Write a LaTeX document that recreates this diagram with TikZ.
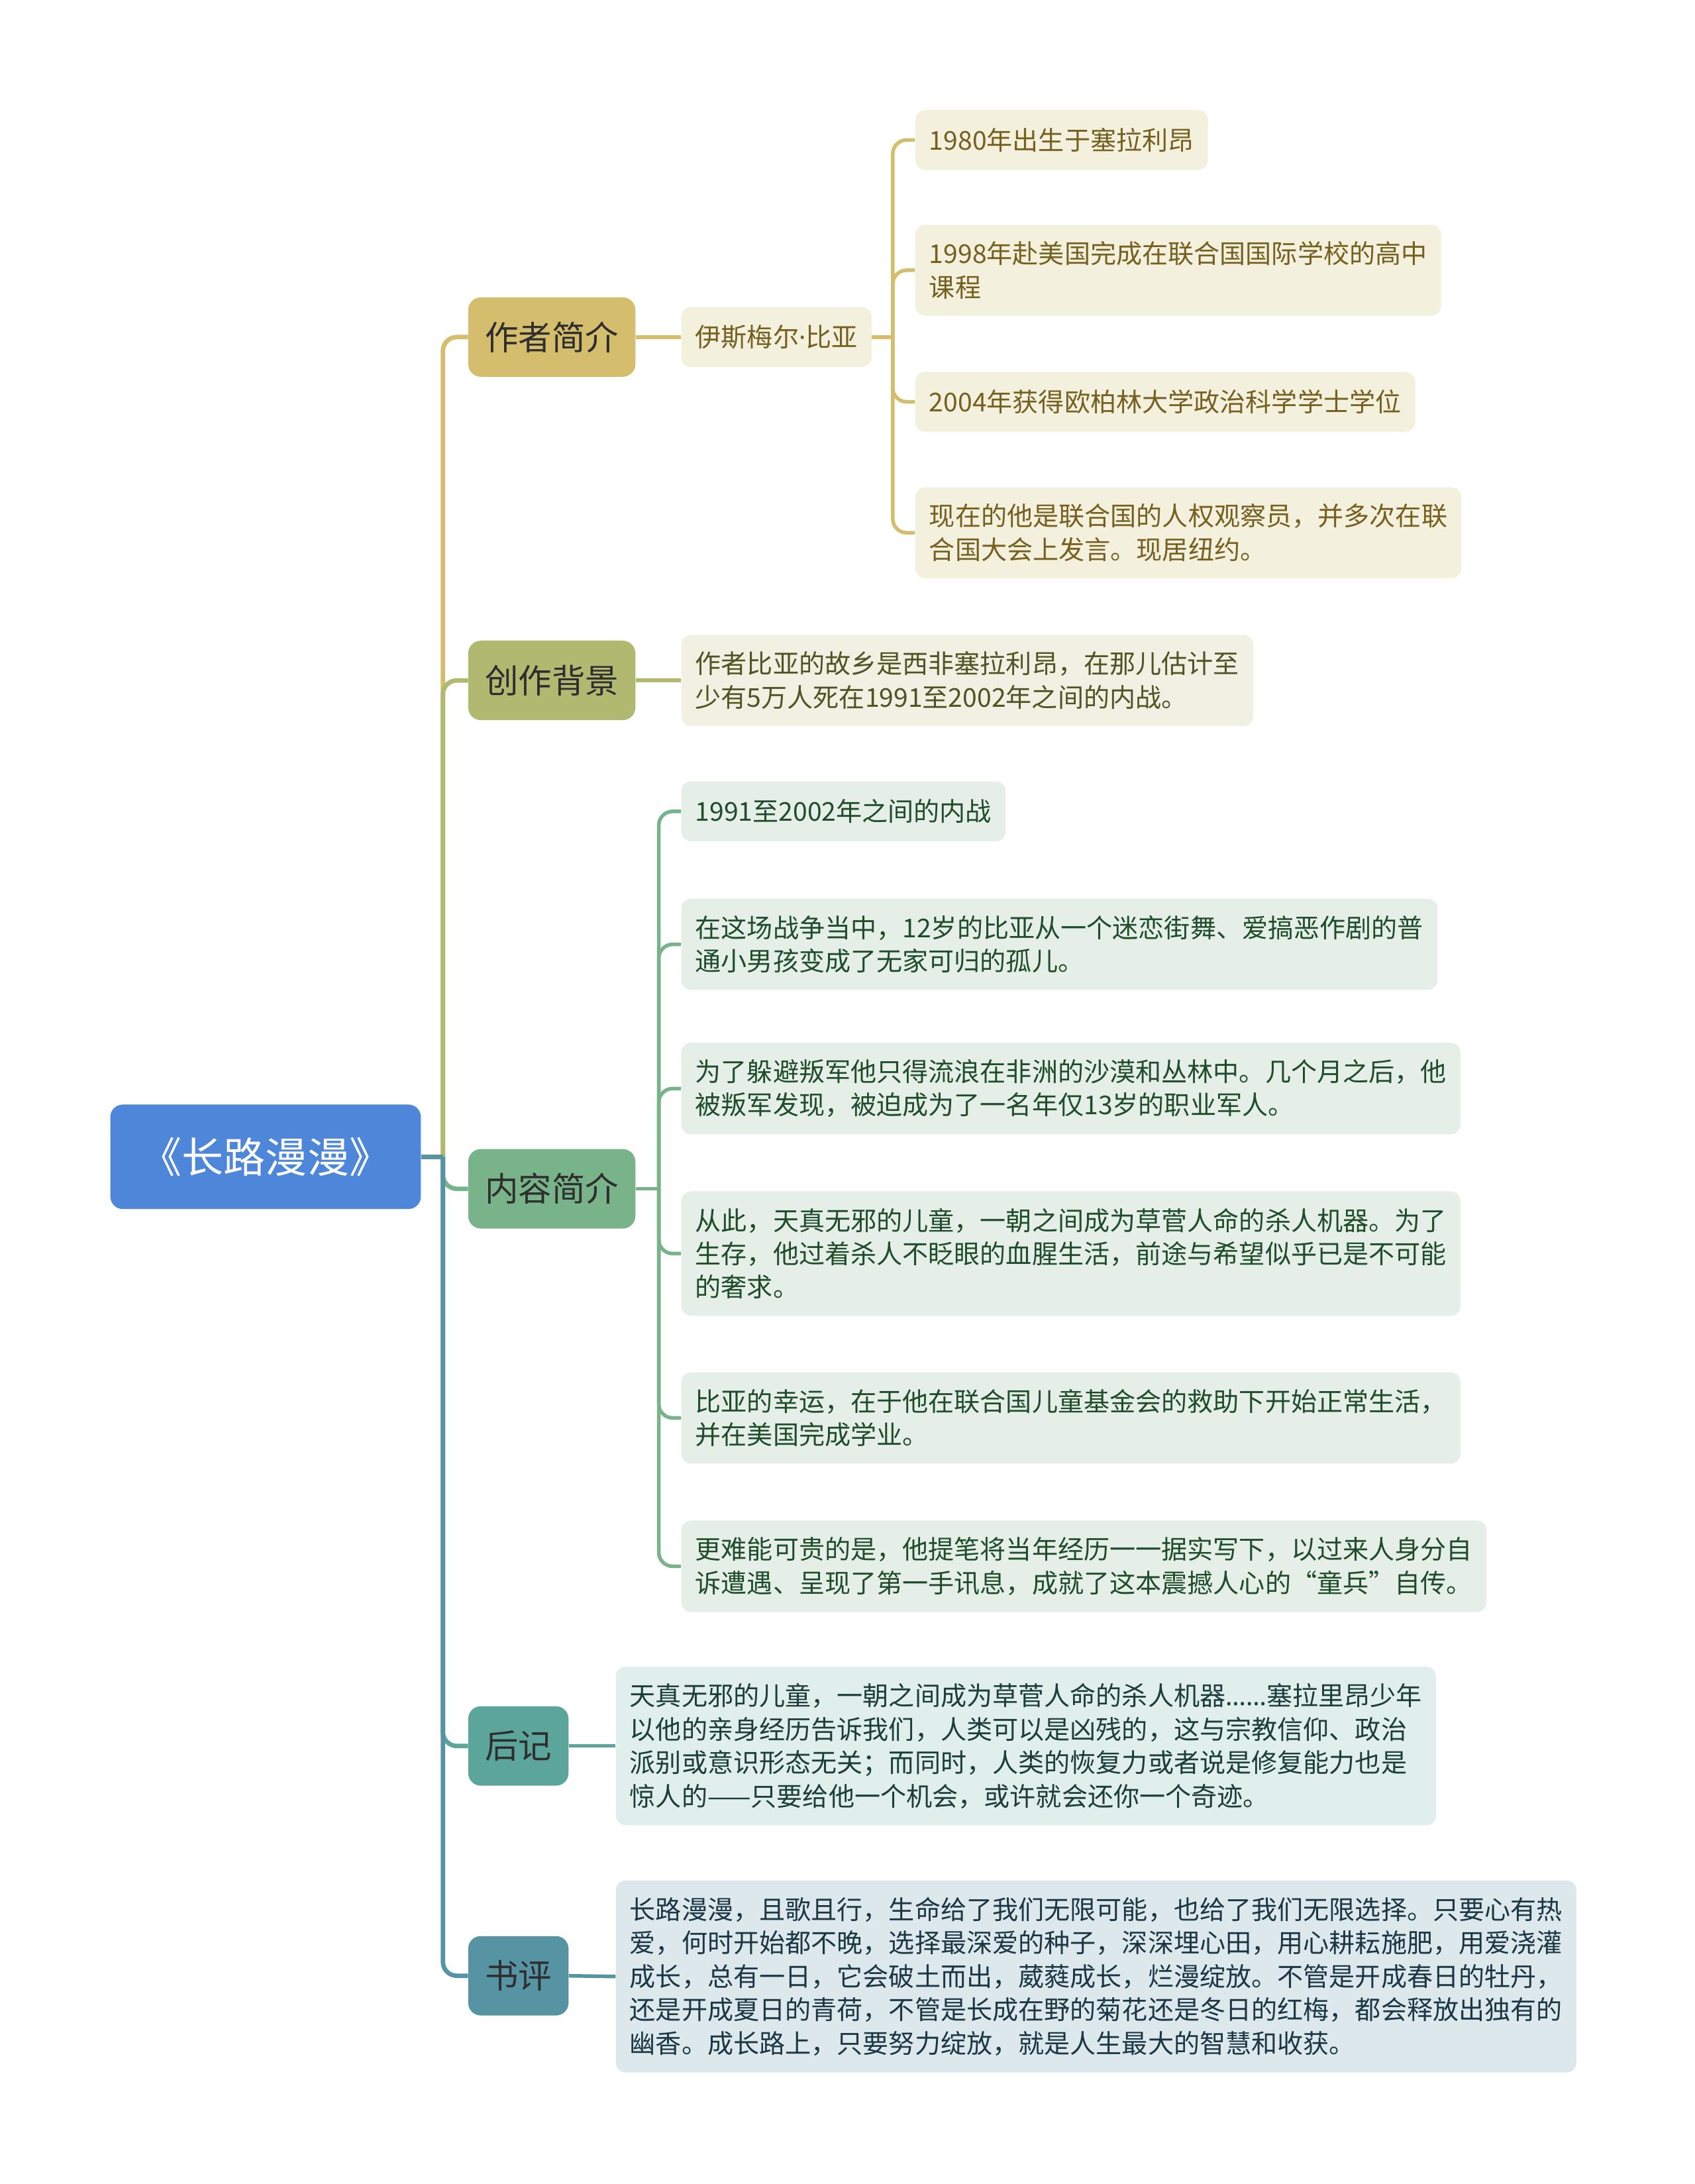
\documentclass[tikz,border=0pt]{standalone}
\usepackage{fontspec}
\setmainfont{Noto Sans CJK SC}
\newfontfamily\xifont{Noto Sans}

\definecolor{zhuLan}{HTML}{4E86D9}
\definecolor{jinHuang}{HTML}{D4BD6C}
\definecolor{ganLan}{HTML}{B0B96F}
\definecolor{qingLv}{HTML}{78B38A}
\definecolor{shuiQing}{HTML}{5BA59A}
\definecolor{huiLan}{HTML}{5794A3}
\definecolor{jinHuangL}{HTML}{F4F0DE}
\definecolor{ganLanL}{HTML}{F0F1E2}
\definecolor{qingLvL}{HTML}{E5EFE7}
\definecolor{shuiQingL}{HTML}{E0EFEC}
\definecolor{huiLanL}{HTML}{DDE8EC}
\definecolor{jinHuangT}{HTML}{75601F}
\definecolor{ganLanT}{HTML}{4E5523}
\definecolor{qingLvT}{HTML}{1F4D2C}
\definecolor{shuiQingT}{HTML}{1C3D39}
\definecolor{huiLanT}{HTML}{1C3744}

\begin{document}
\begin{tikzpicture}[
    x=1pt, y=-1pt,
    every node/.style={anchor=west, align=left, rounded corners=7pt, inner xsep=10pt, inner ysep=12pt,
                       font=\fontsize{18.6}{24}\selectfont},
    zhuti/.style={fill=zhuLan, text=white, align=center, minimum width=223pt, minimum height=75pt,
                  rounded corners=9pt, font=\fontsize{30}{36}\selectfont},
    fenzhi/.style={minimum height=57pt, inner xsep=12pt, inner ysep=6pt, rounded corners=9pt,
                   text=black!82, font=\fontsize{24}{28}\selectfont},
    ye/.style={minimum height=43pt},
    zuozhe/.style={fenzhi, fill=jinHuang},
    beijing/.style={fenzhi, fill=ganLan},
    neirong/.style={fenzhi, fill=qingLv},
    houji/.style={fenzhi, fill=shuiQing},
    shuping/.style={fenzhi, fill=huiLan},
    zuozheye/.style={ye, fill=jinHuangL, text=jinHuangT},
    beijingye/.style={ye, fill=ganLanL, text=ganLanT},
    neirongye/.style={ye, fill=qingLvL, text=qingLvT},
    houjiye/.style={ye, fill=shuiQingL, text=shuiQingT},
    shupingye/.style={ye, fill=huiLanL, text=huiLanT},
    lian/.style={line width=3.2pt, rounded corners=10pt},
    xian/.style={line width=2.6pt, rounded corners=10pt}
]
    \useasboundingbox[fill=white] (0,0) rectangle (1217,1568);

    \node[zhuti]   (root) at (79,830.5)   {《长路漫漫》};

    \node[zuozhe]  (zz)   at (336,242)    {作者简介};
    \node[beijing] (bj)   at (336,488.5)  {创作背景};
    \node[neirong] (nr)   at (336,853.5)  {内容简介};
    \node[houji]   (hj)   at (336,1253.5) {后记};
    \node[shuping] (sp)   at (336,1418.5) {书评};

    % 作者简介
    \node[zuozheye] (zz0) at (489,242)   {伊斯梅尔{\xifont ·}比亚};
    \node[zuozheye] (zz1) at (657,100.5) {1980年出生于塞拉利昂};
    \node[zuozheye] (zz2) at (657,194)   {1998年赴美国完成在联合国国际学校的高中\\课程};
    \node[zuozheye] (zz3) at (657,288.5) {2004年获得欧柏林大学政治科学学士学位};
    \node[zuozheye] (zz4) at (657,382.5) {现在的他是联合国的人权观察员，并多次在联\\合国大会上发言。现居纽约。};

    % 创作背景
    \node[beijingye] (bj1) at (489,488.5) {作者比亚的故乡是西非塞拉利昂，在那儿估计至\\少有5万人死在1991至2002年之间的内战。};

    % 内容简介
    \node[neirongye] (nr1) at (489,582.5)  {1991至2002年之间的内战};
    \node[neirongye] (nr2) at (489,678)    {在这场战争当中，12岁的比亚从一个迷恋街舞、爱搞恶作剧的普\\通小男孩变成了无家可归的孤儿。};
    \node[neirongye] (nr3) at (489,781.5)  {为了躲避叛军他只得流浪在非洲的沙漠和丛林中。几个月之后，他\\被叛军发现，被迫成为了一名年仅13岁的职业军人。};
    \node[neirongye] (nr4) at (489,900)    {从此，天真无邪的儿童，一朝之间成为草菅人命的杀人机器。为了\\生存，他过着杀人不眨眼的血腥生活，前途与希望似乎已是不可能\\的奢求。};
    \node[neirongye] (nr5) at (489,1018)   {比亚的幸运，在于他在联合国儿童基金会的救助下开始正常生活，\\并在美国完成学业。};
    \node[neirongye] (nr6) at (489,1124.5) {更难能可贵的是，他提笔将当年经历一一据实写下，以过来人身分自\\诉遭遇、呈现了第一手讯息，成就了这本震撼人心的“童兵”自传。};

    % 后记 / 书评
    \node[houjiye] (hj1) at (442,1253.5) {天真无邪的儿童，一朝之间成为草菅人命的杀人机器{\xifont ……}塞拉里昂少年\\以他的亲身经历告诉我们，人类可以是凶残的，这与宗教信仰、政治\\派别或意识形态无关；而同时，人类的恢复力或者说是修复能力也是\\惊人的——只要给他一个机会，或许就会还你一个奇迹。};
    \node[shupingye] (sp1) at (442,1419) {长路漫漫，且歌且行，生命给了我们无限可能，也给了我们无限选择。只要心有热\\爱，何时开始都不晚，选择最深爱的种子，深深埋心田，用心耕耘施肥，用爱浇灌\\成长，总有一日，它会破土而出，葳蕤成长，烂漫绽放。不管是开成春日的牡丹，\\还是开成夏日的青荷，不管是长成在野的菊花还是冬日的红梅，都会释放出独有的\\幽香。成长路上，只要努力绽放，就是人生最大的智慧和收获。};

    \coordinate (g0) at (318,830.5);
    \coordinate (g1) at (641,242);
    \coordinate (g2) at (473,853.5);

    % 主干
    \draw[lian, jinHuang] (g0) |- (zz.west);
    \draw[lian, ganLan]   (g0) |- (bj.west);
    \draw[lian, qingLv]   (g0) |- (nr.west);
    \draw[lian, shuiQing] (g0) |- (hj.west);
    \draw[lian, huiLan]   (g0) |- (sp.west);
    \draw[lian, huiLan]   (root.east) -- (g0);

    % 分支
    \draw[xian, jinHuang] (zz.east) -- (zz0.west);
    \draw[xian, jinHuang] (zz0.east) -- (g1);
    \draw[xian, jinHuang] (g1) |- (zz1.west);
    \draw[xian, jinHuang] (g1) |- (zz2.west);
    \draw[xian, jinHuang] (g1) |- (zz3.west);
    \draw[xian, jinHuang] (g1) |- (zz4.west);
    \draw[xian, ganLan]   (bj.east) -- (bj1.west);
    \draw[xian, qingLv]   (nr.east) -- (g2);
    \draw[xian, qingLv]   (g2) |- (nr1.west);
    \draw[xian, qingLv]   (g2) |- (nr2.west);
    \draw[xian, qingLv]   (g2) |- (nr3.west);
    \draw[xian, qingLv]   (g2) |- (nr4.west);
    \draw[xian, qingLv]   (g2) |- (nr5.west);
    \draw[xian, qingLv]   (g2) |- (nr6.west);
    \draw[xian, shuiQing] (hj.east) -- (hj1.west);
    \draw[xian, huiLan]   (sp.east) -- (sp1.west);
\end{tikzpicture}
\end{document}
